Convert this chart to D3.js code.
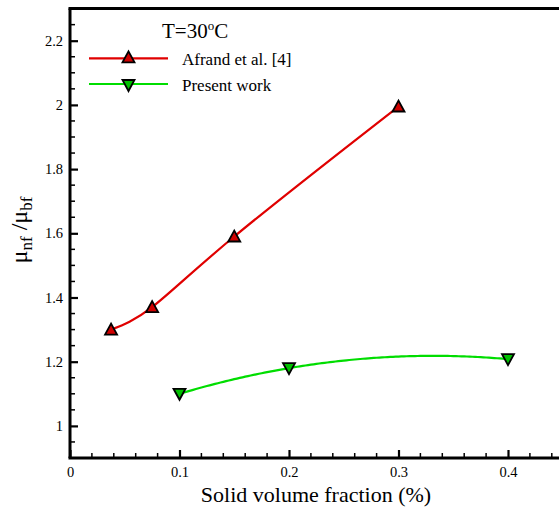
<!DOCTYPE html>
<html><head><meta charset="utf-8">
<script src="https://cdn.jsdelivr.net/npm/d3@7"></script>
<style>body{margin:0;background:#fff}svg{display:block}</style>
</head><body>
<script>
const afrandX = [0.0375, 0.075, 0.15, 0.3];
const afrandY = [1.30, 1.37, 1.59, 1.995];
const presentX = [0.1, 0.2, 0.4];
const presentY = [1.10, 1.18, 1.208];
const xTicks = [0, 0.1, 0.2, 0.3, 0.4];
const xTickLabels = ["0", "0.1", "0.2", "0.3", "0.4"];
const yTicks = [1, 1.2, 1.4, 1.6, 1.8, 2, 2.2];
const yTickLabels = ["1", "1.2", "1.4", "1.6", "1.8", "2", "2.2"];
const seriesNames = ["Afrand et al. [4]", "Present work"];

const FONT = "Liberation Serif";
const W = 559, H = 509;
const svg = d3.select("body").append("svg").attr("width", W).attr("height", H).attr("font-family", FONT);
const x = d3.scaleLinear().domain([0, 0.45]).range([70, 562.75]);
const y = d3.scaleLinear().domain([0.9, 2.3]).range([458, 8.6]);

// minor ticks
const xMinor = d3.range(0, 0.4501, 0.02).filter(v => !xTicks.some(t => Math.abs(t - v) < 1e-6));
const yMinor = d3.range(0.9, 2.3001, 0.05).filter(v => !yTicks.some(t => Math.abs(t - v) < 1e-6));
const g = svg.append("g");
g.selectAll(".xmin").data(xMinor).enter().append("line")
  .attr("x1", d => x(d)).attr("x2", d => x(d)).attr("y1", y(0.9)).attr("y2", y(0.9) - 5)
  .attr("stroke", "#000").attr("stroke-width", 1.5);
g.selectAll(".ymin").data(yMinor).enter().append("line")
  .attr("y1", d => y(d)).attr("y2", d => y(d)).attr("x1", x(0)).attr("x2", x(0) + 5)
  .attr("stroke", "#000").attr("stroke-width", 1.5);

// axes with inward major ticks
const xAxis = d3.axisBottom(x).tickValues(xTicks).tickFormat((d, i) => xTickLabels[i]).tickSizeInner(-8).tickSizeOuter(0).tickPadding(9);
const yAxis = d3.axisLeft(y).tickValues(yTicks).tickFormat((d, i) => yTickLabels[i]).tickSizeInner(-8).tickSizeOuter(0).tickPadding(7);
const gx = svg.append("g").attr("transform", `translate(0,${y(0.9)})`).call(xAxis);
const gy = svg.append("g").attr("transform", `translate(${x(0)},0)`).call(yAxis);
[gx, gy].forEach(a => {
  a.attr("font-family", FONT).attr("font-size", 14.5);
  a.select(".domain").remove();
  a.selectAll(".tick line").attr("stroke", "#000").attr("stroke-width", 2.2);
  a.selectAll(".tick text").attr("fill", "#000").attr("font-family", FONT).attr("font-size", 14.5);
});

// spines
svg.append("line").attr("x1", x(0)).attr("x2", x(0)).attr("y1", y(2.3)).attr("y2", y(0.9)).attr("stroke", "#000").attr("stroke-width", 3);
svg.append("line").attr("x1", x(0) - 1.5).attr("x2", x(0.45)).attr("y1", y(0.9)).attr("y2", y(0.9)).attr("stroke", "#000").attr("stroke-width", 3);
svg.append("line").attr("x1", x(0) - 1.5).attr("x2", x(0.45)).attr("y1", y(2.3)).attr("y2", y(2.3)).attr("stroke", "#000").attr("stroke-width", 3);

// smooth interpolating curve through 3 points (quadratic, as a not-a-knot spline gives)
function smooth(xs, ys) {
  const n = xs.length, pts = [];
  const x0 = xs[0], x1 = xs[n - 1];
  for (let k = 0; k <= 120; k++) {
    const t = x0 + (x1 - x0) * k / 120;
    let v = 0;
    for (let i = 0; i < n; i++) {
      let L = 1;
      for (let j = 0; j < n; j++) if (j !== i) L *= (t - xs[j]) / (xs[i] - xs[j]);
      v += ys[i] * L;
    }
    pts.push([t, v]);
  }
  return pts;
}
const afr = afrandX.map((v, i) => [v, afrandY[i]]);
const pre = presentX.map((v, i) => [v, presentY[i]]);
const lineNat = d3.line().x(d => x(d[0])).y(d => y(d[1])).curve(d3.curveNatural);
const line = d3.line().x(d => x(d[0])).y(d => y(d[1]));
svg.append("path").datum(afr).attr("d", lineNat).attr("fill", "none").attr("stroke", "#e00000").attr("stroke-width", 2.2);
svg.append("path").datum(smooth(presentX, presentY)).attr("d", line).attr("fill", "none").attr("stroke", "#00dd00").attr("stroke-width", 2.2);

function down(cx, cy) { const s = 6; return `M${cx - s},${cy - 5}L${cx + s},${cy - 5}L${cx},${cy + 6}Z`; }
function upT(cx, cy) { const s = 6; return `M${cx - s},${cy + 5}L${cx + s},${cy + 5}L${cx},${cy - 6}Z`; }
svg.selectAll(".mu").data(afr).enter().append("path")
  .attr("d", d => upT(x(d[0]), y(d[1]))).attr("fill", "#d00000").attr("stroke", "#000").attr("stroke-width", 1.8);
svg.selectAll(".md").data(pre).enter().append("path")
  .attr("d", d => down(x(d[0]), y(d[1]))).attr("fill", "#00c000").attr("stroke", "#000").attr("stroke-width", 1.8);

// legend
const tt = svg.append("text").attr("x", 162).attr("y", 38).attr("font-size", 21).attr("fill", "#000");
tt.append("tspan").text("T=30");
tt.append("tspan").attr("dy", -8).attr("font-size", 13).text("o");
tt.append("tspan").attr("dy", 8).text("C");
const leg = [[58.3, "#e00000", "#d00000", upT], [84, "#00dd00", "#00c000", down]];
leg.forEach((l, i) => {
  svg.append("line").attr("x1", 89).attr("x2", 168).attr("y1", l[0]).attr("y2", l[0]).attr("stroke", l[1]).attr("stroke-width", 2.2);
  svg.append("path").attr("d", l[3](128.5, l[0] - (i === 0 ? 1 : -1))).attr("fill", l[2]).attr("stroke", "#000").attr("stroke-width", 1.8);
  svg.append("text").attr("x", 182).attr("y", l[0] + 6.5).attr("font-size", 17).attr("fill", "#000").text(seriesNames[i]);
});

// axis titles
svg.append("text").attr("x", 316).attr("y", 502).attr("text-anchor", "middle").attr("font-size", 22).attr("fill", "#000").text("Solid volume fraction (%)");
const yl = svg.append("text").attr("transform", "translate(27,230) rotate(-90)").attr("text-anchor", "middle").attr("font-size", 24).attr("fill", "#000");
yl.append("tspan").text("μ");
yl.append("tspan").attr("dy", 5).attr("font-size", 17).text("nf");
yl.append("tspan").attr("dy", -5).text(" /");
yl.append("tspan").text("μ");
yl.append("tspan").attr("dy", 5).attr("font-size", 17).text("bf");
</script>
</body></html>
